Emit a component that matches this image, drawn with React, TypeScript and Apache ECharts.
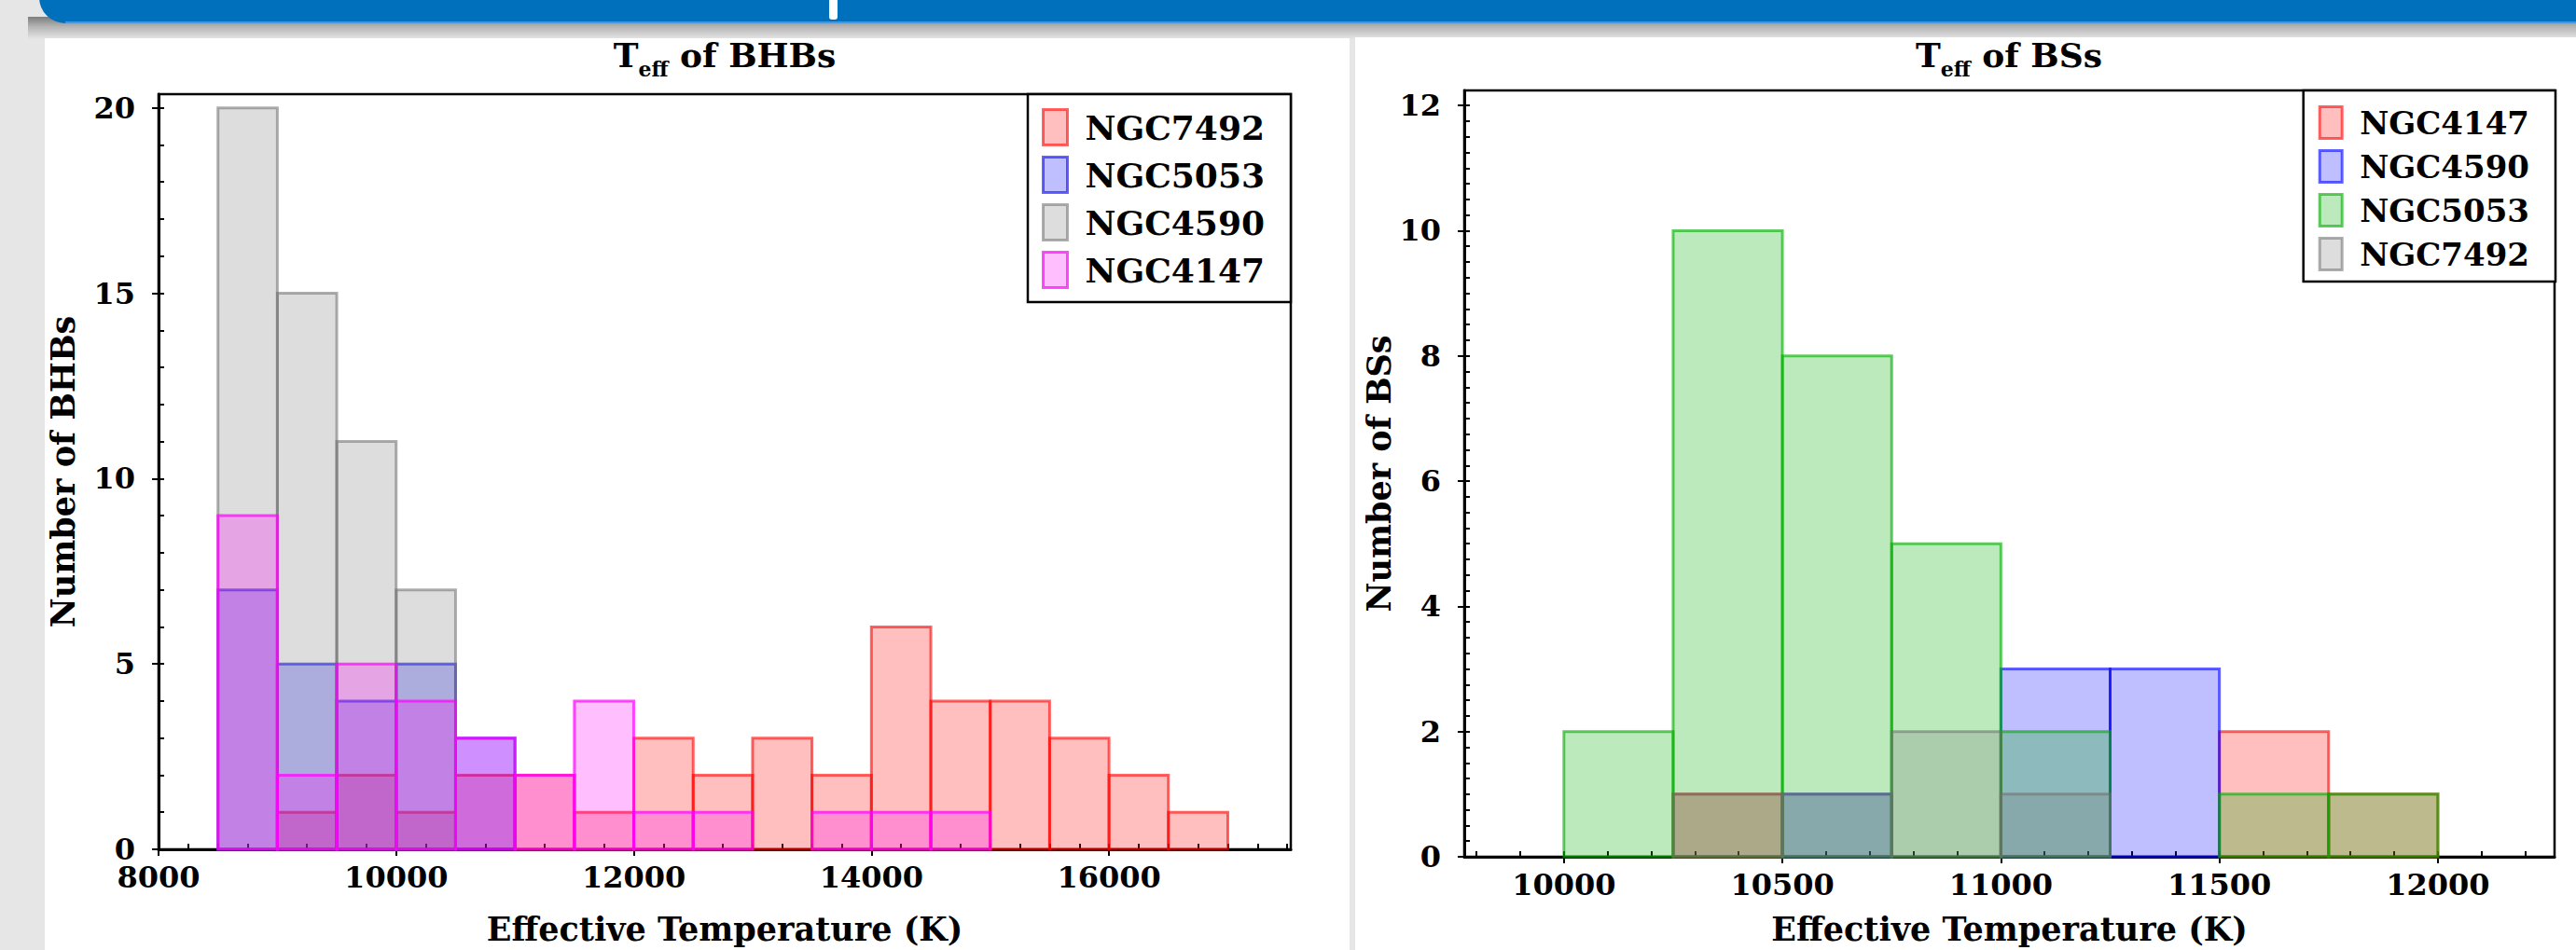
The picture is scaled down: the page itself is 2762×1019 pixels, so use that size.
import React, { useEffect, useRef } from 'react';
import * as echarts from 'echarts';

const W = 2762;
const H = 1019;

// ---------- data: BHB histogram (bin width 500 K) ----------
const bhbBinStarts = [8500, 9000, 9500, 10000, 10500, 11000, 11500, 12000, 12500, 13000, 13500, 14000, 14500, 15000, 15500, 16000, 16500];
const bhbBinWidth = 500;
const bhbNGC7492 = [0, 1, 2, 1, 2, 2, 1, 3, 2, 3, 2, 6, 4, 4, 3, 2, 1];
const bhbNGC5053 = [7, 5, 4, 5, 3, 0, 0, 0, 0, 0, 0, 0, 0, 0, 0, 0, 0];
const bhbNGC4590 = [20, 15, 11, 7, 0, 0, 0, 0, 0, 0, 0, 0, 0, 0, 0, 0, 0];
const bhbNGC4147 = [9, 2, 5, 4, 3, 2, 4, 1, 1, 0, 1, 1, 1, 0, 0, 0, 0];

// ---------- data: BS histogram (bin width 250 K) ----------
const bsBinStarts = [10000, 10250, 10500, 10750, 11000, 11250, 11500, 11750];
const bsBinWidth = 250;
const bsNGC4147 = [0, 1, 0, 0, 0, 0, 2, 1];
const bsNGC4590 = [0, 0, 1, 0, 3, 3, 0, 0];
const bsNGC5053 = [2, 10, 8, 5, 2, 0, 1, 1];
const bsNGC7492 = [0, 1, 1, 2, 1, 0, 0, 0];

// ---------- tick labels ----------
const bhbXTicks = [8000, 10000, 12000, 14000, 16000];
const bhbYTicks = [0, 5, 10, 15, 20];
const bsXTicks = [10000, 10500, 11000, 11500, 12000];
const bsYTicks = [0, 2, 4, 6, 8, 10, 12];

const range = (a: number, b: number, s: number) => {
  const out: number[] = [];
  for (let v = a; v <= b + 1e-9; v += s) out.push(Math.round(v * 100) / 100);
  return out;
};
const bhbXMinor = range(8000, 17500, 250);
const bhbYMinor = range(0, 20, 1);
const bsXMinor = range(9800, 12200, 100);
const bsYMinor = range(0, 12, 0.25);

const COL = {
  red: { fill: 'rgba(255,0,0,0.25)', stroke: 'rgba(255,0,0,0.6)' },
  blue: { fill: 'rgba(0,0,255,0.25)', stroke: 'rgba(0,0,255,0.6)' },
  gray: { fill: 'rgba(119,119,119,0.25)', stroke: 'rgba(110,110,110,0.55)' },
  magenta: { fill: 'rgba(255,0,255,0.25)', stroke: 'rgba(255,0,255,0.7)' },
  green: { fill: 'rgba(0,175,0,0.26)', stroke: 'rgba(0,175,0,0.62)' },
};

const FONT = 'DejaVu Serif';

function hist(name: string, starts: number[], width: number, counts: number[], c: { fill: string; stroke: string }, ai: number) {
  const data = starts.map((s, i) => [s, s + width, counts[i]]).filter((d) => d[2] > 0);
  return {
    type: 'custom',
    name,
    xAxisIndex: ai,
    yAxisIndex: ai,
    data,
    encode: { x: [0, 1], y: 2 },
    itemStyle: { color: c.fill, borderColor: c.stroke },
    renderItem: (_p: any, api: any) => {
      const a = api.coord([api.value(0), api.value(2)]);
      const b = api.coord([api.value(1), 0]);
      return {
        type: 'rect',
        shape: { x: a[0], y: a[1], width: b[0] - a[0], height: b[1] - a[1] },
        style: { fill: c.fill, stroke: c.stroke, lineWidth: 3 },
      };
    },
  };
}

const fmt = (v: number) => String(v);

function mainX(gridIndex: number, min: number, max: number, ticks: number[], nameGap: number) {
  return {
    type: 'value', gridIndex, min, max, position: 'bottom',
    name: 'Effective Temperature (K)', nameLocation: 'middle', nameGap,
    nameTextStyle: { fontFamily: FONT, fontSize: 35, fontWeight: 'bold', color: '#000' },
    axisLine: { show: true, onZero: false, lineStyle: { color: '#000', width: 3 } },
    axisTick: { show: true, inside: false, length: 7, customValues: ticks, lineStyle: { color: '#000', width: 2 } },
    axisLabel: { show: true, customValues: ticks, formatter: fmt, margin: 14, fontFamily: FONT, fontSize: 32, fontWeight: 'bold', color: '#000' },
    splitLine: { show: false },
  };
}
function minorX(gridIndex: number, min: number, max: number, ticks: number[]) {
  return {
    type: 'value', gridIndex, min, max, position: 'bottom',
    axisLine: { show: false, onZero: false },
    axisTick: { show: true, inside: true, length: 6, customValues: ticks, lineStyle: { color: '#000', width: 2 } },
    axisLabel: { show: false },
    splitLine: { show: false },
  };
}
function mainY(gridIndex: number, max: number, ticks: number[], name: string, nameGap: number) {
  return {
    type: 'value', gridIndex, min: 0, max, position: 'left',
    name, nameLocation: 'middle', nameGap,
    nameTextStyle: { fontFamily: FONT, fontSize: 35, fontWeight: 'bold', color: '#000' },
    axisLine: { show: true, onZero: false, lineStyle: { color: '#000', width: 3 } },
    axisTick: { show: true, inside: false, length: 7, customValues: ticks, lineStyle: { color: '#000', width: 2 } },
    axisLabel: { show: true, customValues: ticks, formatter: fmt, margin: 25, fontFamily: FONT, fontSize: 32, fontWeight: 'bold', color: '#000' },
    splitLine: { show: false },
  };
}
function minorY(gridIndex: number, max: number, ticks: number[]) {
  return {
    type: 'value', gridIndex, min: 0, max, position: 'left',
    axisLine: { show: false, onZero: false },
    axisTick: { show: true, inside: true, length: 6, customValues: ticks, lineStyle: { color: '#000', width: 2 } },
    axisLabel: { show: false },
    splitLine: { show: false },
  };
}

function legendData(names: string[], cols: { fill: string; stroke: string }[]) {
  return names.map((n, i) => ({ name: n, icon: 'rect', itemStyle: { color: cols[i].fill, borderColor: cols[i].stroke, borderWidth: 3 } }));
}

function titleText(x: number, label: string) {
  return {
    type: 'text', x, y: 63, z: 10,
    style: {
      text: `{a|T}{b|eff}{a| of ${label}}`,
      align: 'center', verticalAlign: 'middle',
      rich: {
        a: { fontFamily: FONT, fontSize: 36, fontWeight: 'bold', lineHeight: 44, verticalAlign: 'top', fill: '#000', color: '#000' },
        b: { fontFamily: FONT, fontSize: 22, fontWeight: 'bold', lineHeight: 22, verticalAlign: 'bottom', fill: '#000', color: '#000' },
      },
    },
  };
}

export default function App() {
  const ref = useRef<HTMLDivElement>(null);
  useEffect(() => {
    document.body.style.margin = '0';
    document.documentElement.style.overflow = 'hidden';
    const chart = echarts.init(ref.current!, null, { renderer: 'svg', width: W, height: H });

    const leftSeries = [
      hist('NGC7492', bhbBinStarts, bhbBinWidth, bhbNGC7492, COL.red, 0),
      hist('NGC5053', bhbBinStarts, bhbBinWidth, bhbNGC5053, COL.blue, 0),
      hist('NGC4590', bhbBinStarts, bhbBinWidth, bhbNGC4590, COL.gray, 0),
      hist('NGC4147', bhbBinStarts, bhbBinWidth, bhbNGC4147, COL.magenta, 0),
    ];
    const rightSeries = [
      hist('NGC4147', bsBinStarts, bsBinWidth, bsNGC4147, COL.red, 2),
      hist('NGC4590', bsBinStarts, bsBinWidth, bsNGC4590, COL.blue, 2),
      hist('NGC5053', bsBinStarts, bsBinWidth, bsNGC5053, COL.green, 2),
      hist('NGC7492', bsBinStarts, bsBinWidth, bsNGC7492, COL.gray, 2),
    ];

    const option: any = {
      animation: false,
      backgroundColor: '#e6e6e6',
      graphic: {
        elements: [
          {
            type: 'rect', z: -100, shape: { x: 30, y: 18, width: W - 30, height: 24 },
            style: {
              fill: new echarts.graphic.LinearGradient(0, 0, 0, 1, [
                { offset: 0, color: '#7d7d7d' },
                { offset: 0.45, color: '#b5b5b5' },
                { offset: 1, color: '#e6e6e6' },
              ]),
            },
          },
          { type: 'rect', z: -99, shape: { x: 42, y: -40, width: W, height: 65, r: [0, 0, 0, 28] }, style: { fill: '#0070bd' } },
          { type: 'rect', z: -98, shape: { x: 70, y: 23, width: W, height: 2 }, style: { fill: '#4a93d6' } },
          { type: 'rect', z: -97, shape: { x: 889, y: 0, width: 9, height: 21, r: [0, 0, 3, 3] }, style: { fill: '#ffffff' } },
          { type: 'rect', z: -96, shape: { x: 48, y: 41, width: 1399, height: H - 41 }, style: { fill: '#ffffff' } },
          { type: 'rect', z: -96, shape: { x: 1453, y: 40, width: W - 1453, height: H - 40 }, style: { fill: '#ffffff' } },
          titleText(777, 'BHBs'),
          titleText(2154, 'BSs'),
        ],
      },
      grid: [
        { left: 170, top: 101, width: 1214, height: 814, show: true, borderColor: '#000', borderWidth: 2.5, backgroundColor: 'transparent' },
        { left: 1570, top: 97, width: 1169, height: 829, show: true, borderColor: '#000', borderWidth: 2.5, backgroundColor: 'transparent' },
      ],
      xAxis: [
        mainX(0, 8000, 17530, bhbXTicks, 68),
        minorX(0, 8000, 17530, bhbXMinor),
        mainX(1, 9772, 12267, bsXTicks, 60),
        minorX(1, 9772, 12267, bsXMinor),
      ],
      yAxis: [
        mainY(0, 20.37, bhbYTicks, 'Number of BHBs', 85),
        minorY(0, 20.37, bhbYMinor),
        mainY(1, 12.24, bsYTicks, 'Number of BSs', 74),
        minorY(1, 12.24, bsYMinor),
      ],
      legend: [
        {
          orient: 'vertical', align: 'left', right: W - 1384, top: 101,
          selectedMode: false,
          backgroundColor: '#fff', borderColor: '#000', borderWidth: 2.5,
          padding: [15, 28, 14, 15], itemGap: 10, itemWidth: 26, itemHeight: 38,
          textStyle: { fontFamily: FONT, fontSize: 36, fontWeight: 'bold', color: '#000', lineHeight: 38, padding: [0, 0, 0, 14] },
          data: legendData(['NGC7492', 'NGC5053', 'NGC4590', 'NGC4147'], [COL.red, COL.blue, COL.gray, COL.magenta]),
        },
        {
          orient: 'vertical', align: 'left', right: W - 2740, top: 97,
          selectedMode: false,
          backgroundColor: '#fff', borderColor: '#000', borderWidth: 2.5,
          padding: [16, 28, 11, 16], itemGap: 10, itemWidth: 24, itemHeight: 34,
          textStyle: { fontFamily: FONT, fontSize: 34, fontWeight: 'bold', color: '#000', lineHeight: 34, padding: [0, 0, 0, 14] },
          data: legendData(['NGC4147', 'NGC4590', 'NGC5053', 'NGC7492'], [COL.red, COL.blue, COL.green, COL.gray]),
        },
      ],
      series: [...leftSeries, ...rightSeries],
    };
    chart.setOption(option);
    return () => chart.dispose();
  }, []);
  return <div ref={ref} style={{ width: W, height: H }} />;
}
